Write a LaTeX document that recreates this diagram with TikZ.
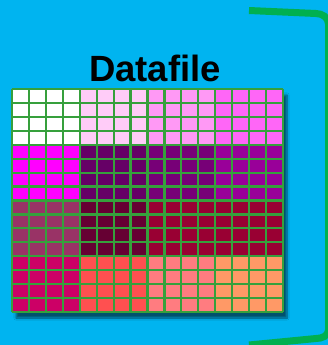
\documentclass[tikz,border=0pt]{standalone}
\usepackage{fontspec}
\setmainfont{Liberation Sans}
\usetikzlibrary{shadows.blur}

\definecolor{sky}{HTML}{00B4F0}
\definecolor{bracketgreen}{HTML}{00B050}
\definecolor{gridgreen}{HTML}{36A03C}
% block colours, row by row
\definecolor{cA}{HTML}{FFFFFF}
\definecolor{cB}{HTML}{FFCCF8}
\definecolor{cC}{HTML}{FF99F5}
\definecolor{cD}{HTML}{FF66F7}
\definecolor{cE}{HTML}{FF00FF}
\definecolor{cF}{HTML}{660066}
\definecolor{cG}{HTML}{770077}
\definecolor{cH}{HTML}{990099}
\definecolor{cI}{HTML}{993366}
\definecolor{cJ}{HTML}{660033}
\definecolor{cK}{HTML}{990033}
\definecolor{cL}{HTML}{990033}
\definecolor{cM}{HTML}{CC0066}
\definecolor{cN}{HTML}{FF5050}
\definecolor{cO}{HTML}{FF7C80}
\definecolor{cP}{HTML}{FF9966}

\tikzset{
  gridline/.style={gridgreen, line width=2.2pt},
  bracket/.style={bracketgreen, line width=7pt},
  title/.style={font=\bfseries\fontsize{36.5}{36.5}\selectfont, anchor=base, inner sep=0pt}
}

\begin{document}
\begin{tikzpicture}[x=1pt,y=-1pt]
  \fill[sky] (0,0) rectangle (328,345);
  \useasboundingbox (0,0) rectangle (328,345);

  \node[title] (title) at (155,81.5) {Datafile};

  % the file: 4x4 blocks of 4x4 records
  \fill[white, blur shadow={shadow xshift=4pt, shadow yshift=-6pt, shadow blur steps=8, shadow opacity=55}]
    (12,89) rectangle (283,312);
  \foreach \c [count=\i from 0] in {cA,cB,cC,cD,cE,cF,cG,cH,cI,cJ,cK,cL,cM,cN,cO,cP} {
    \pgfmathtruncatemacro{\row}{int(\i/4)}
    \pgfmathtruncatemacro{\col}{mod(\i,4)}
    \fill[\c] (12+\col*67.75,89+\row*55.75) rectangle ++(67.75,55.75);
  }
  \foreach \k in {0,...,16} {
    \draw[gridline] (12+\k*16.9375,89) -- ++(0,223);
    \draw[gridline] (12,89+\k*13.9375) -- ++(271,0);
  }

  % bracket on the right
  \draw[bracket] (249,10.5) -- (316,13.5) to[out=0,in=90] (328.5,24)
    -- (328.5,330) to[out=-90,in=0] (316,338.5) -- (249,345);
\end{tikzpicture}
\end{document}
